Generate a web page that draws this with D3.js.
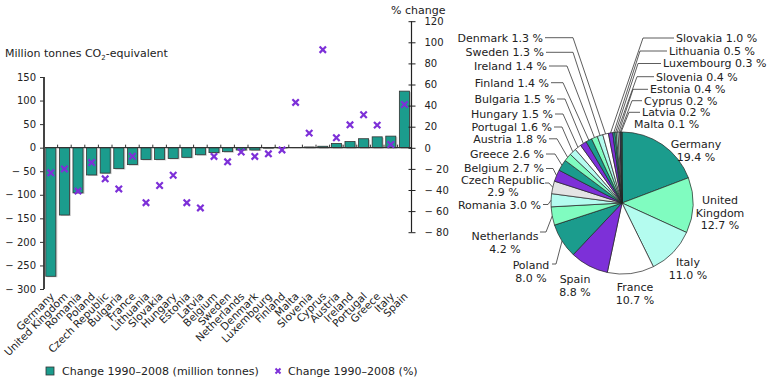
<!DOCTYPE html>
<html>
<head>
<meta charset="utf-8">
<script src="https://cdn.jsdelivr.net/npm/d3@7"></script>
<style>
  body { margin: 0; background: #fff; }
  svg { display: block; font-family: "DejaVu Sans", Verdana, sans-serif; }
  text { fill: #222; }
</style>
</head>
<body>
<svg id="chart" width="768" height="377"></svg>
<script>
// bar chart data: change 1990-2008 per country
const countries = ["Germany", "United Kingdom", "Romania", "Poland", "Czech Republic", "Bulgaria", "France",
  "Lithuania", "Slovakia", "Hungary", "Estonia", "Latvia", "Belgium", "Sweden", "Netherlands", "Denmark",
  "Luxembourg", "Finland", "Malta", "Slovenia", "Cyprus", "Austria", "Ireland", "Portugal", "Greece", "Italy", "Spain"];
const changeMt = [-273, -143, -96, -58, -54, -44.5, -36, -25, -25, -23, -20.5, -15, -10.5, -8.5, -5, -5,
  -1, -0.5, 0.3, 1.5, 3, 9, 13, 19, 23, 24.5, 120];
const changePct = [-23.7, -20, -41, -14, -29.4, -39, -8, -52, -35.7, -26, -52, -57, -8.2, -13.3, -4, -8.2,
  -5.7, -2, 43, 13.9, 93, 9.5, 21.8, 31.3, 21.5, 3.1, 41];
const mtTicks = [150, 100, 50, 0, -50, -100, -150, -200, -250, -300];
const pctTicks = [120, 100, 80, 60, 40, 20, 0, -20, -40, -60, -80];

// pie data: share of EU-27 emissions
const pieNames = ["Germany", "United Kingdom", "Italy", "France", "Spain", "Poland", "Netherlands", "Romania",
  "Czech Republic", "Belgium", "Greece", "Austria", "Portugal", "Hungary", "Bulgaria", "Finland", "Ireland",
  "Sweden", "Denmark", "Slovakia", "Lithuania", "Luxembourg", "Slovenia", "Estonia", "Cyprus", "Latvia", "Malta"];
const pieShares = [19.4, 12.7, 11.0, 10.7, 8.8, 8.0, 4.2, 3.0, 2.9, 2.7, 2.6, 1.8, 1.6, 1.5, 1.5, 1.4, 1.4,
  1.3, 1.3, 1.0, 0.5, 0.3, 0.4, 0.4, 0.2, 0.2, 0.1];

const teal = "#1b9c8d", purple = "#7d30d8";
const palette = [teal, "#80fcc0", "#b4fcef", "#ffffff", purple];

const svg = d3.select("#chart");
const minus = v => v < 0 ? "\u2212 " + Math.abs(v) : String(v);

//#region bar chart
const x = d3.scaleBand().domain(countries).range([44, 411.2]).paddingInner(0.26).paddingOuter(0.13);
const y = d3.scaleLinear().domain([-300, 150]).range([289, 77]);
const y2 = d3.scaleLinear().domain([-80, 120]).range([232.2, 21.2]);

const bars = svg.append("g");
bars.selectAll("rect.shadow").data(countries).join("rect")
  .attr("class", "shadow")
  .attr("x", d => x(d) + 1.5)
  .attr("y", (d, i) => Math.min(y(0), y(changeMt[i])) + 1)
  .attr("width", x.bandwidth())
  .attr("height", (d, i) => Math.abs(y(changeMt[i]) - y(0)))
  .attr("fill", "#cfcfcf");
bars.selectAll("rect.bar").data(countries).join("rect")
  .attr("class", "bar")
  .attr("x", d => x(d))
  .attr("y", (d, i) => Math.min(y(0), y(changeMt[i])))
  .attr("width", x.bandwidth())
  .attr("height", (d, i) => Math.abs(y(changeMt[i]) - y(0)))
  .attr("fill", teal).attr("stroke", "#333").attr("stroke-width", 0.8);

// zero line with category separators
const zero = svg.append("g").attr("stroke", "#333");
zero.append("line").attr("x1", 44).attr("x2", 411.2).attr("y1", y(0)).attr("y2", y(0)).attr("stroke-width", 1.2);
zero.selectAll("line.sep").data(d3.range(1, countries.length)).join("line")
  .attr("class", "sep")
  .attr("x1", k => 44 + k * x.step()).attr("x2", k => 44 + k * x.step())
  .attr("y1", y(0)).attr("y2", y(0) - 3);

// left axis
const yAxis = d3.axisLeft(y).tickValues(mtTicks).tickSize(4).tickFormat(minus);
svg.append("g").attr("transform", "translate(44,0)").call(yAxis)
  .call(g => g.select(".domain").attr("stroke", "#444").attr("stroke-width", 2).attr("d", `M0,${y(150)}V${y(-300)}`))
  .call(g => g.selectAll(".tick line").attr("stroke", "#333"))
  .call(g => g.selectAll(".tick text").attr("x", -8).attr("font-size", 10).attr("fill", "#222")
    .attr("font-family", "DejaVu Sans, Verdana, sans-serif"));

// right axis
const y2Axis = d3.axisRight(y2).tickValues(pctTicks).tickSize(0).tickFormat(minus);
svg.append("g").attr("transform", "translate(411.5,0)").call(y2Axis)
  .call(g => g.select(".domain").attr("stroke", "#222").attr("stroke-width", 1.2).attr("d", `M0,${y2(120)}V${y2(-80)}`))
  .call(g => g.selectAll(".tick").append("line").attr("x1", -3).attr("x2", 4).attr("stroke", "#222"))
  .call(g => g.selectAll(".tick text").attr("x", 13).attr("font-size", 10).attr("fill", "#222")
    .attr("font-family", "DejaVu Sans, Verdana, sans-serif"));

svg.append("text").attr("x", 391).attr("y", 14).attr("font-size", 11).text("% change");
const ttl = svg.append("text").attr("x", 5).attr("y", 57).attr("font-size", 11);
ttl.append("tspan").text("Million tonnes CO");
ttl.append("tspan").attr("font-size", 7).attr("dy", 3).text("2");
ttl.append("tspan").attr("dy", -3).text("-equivalent");

// percentage markers
svg.append("g").selectAll("path").data(countries).join("path")
  .attr("transform", (d, i) => `translate(${x(d) + x.bandwidth() / 2},${y2(changePct[i])})`)
  .attr("d", "M-3.2,-3.2L3.2,3.2M-3.2,3.2L3.2,-3.2")
  .attr("stroke", purple).attr("stroke-width", 2.2);

// category labels
svg.append("g").selectAll("text").data(countries).join("text")
  .attr("transform", d => `translate(${x(d) + x.bandwidth() / 2 + 4},297) rotate(-45)`)
  .attr("text-anchor", "end").attr("font-size", 10.5)
  .text(d => d);

// legend
const lg = svg.append("g");
lg.append("rect").attr("x", 46).attr("y", 367).attr("width", 8).attr("height", 8)
  .attr("fill", teal).attr("stroke", "#333").attr("stroke-width", 0.8);
lg.append("text").attr("x", 62).attr("y", 375).attr("font-size", 11).text("Change 1990\u20132008 (million tonnes)");
lg.append("path").attr("transform", "translate(278,371)").attr("d", "M-2.5,-2.5L2.5,2.5M-2.5,2.5L2.5,-2.5")
  .attr("stroke", purple).attr("stroke-width", 2);
lg.append("text").attr("x", 288).attr("y", 375).attr("font-size", 11).text("Change 1990\u20132008 (%)");
//#endregion

//#region pie
const cx = 622, cy = 203, r = 71;
const pie = d3.pie().sort(null).value(d => d.v);
const arcs = pie(pieNames.map((n, i) => ({ n, v: pieShares[i], i })));
const arc = d3.arc().innerRadius(0).outerRadius(r);
const color = d => d.n === "Czech Republic" ? "#e4e4e4" : palette[d.i % 5];

const gp = svg.append("g").attr("transform", `translate(${cx},${cy})`);
gp.selectAll("path").data(arcs).join("path")
  .attr("d", arc)
  .attr("fill", d => color(d.data))
  .attr("stroke", "#222").attr("stroke-width", 0.7);

// label placement (text anchor point, line gap, optional leader start + elbow)
const pieLabelPos = {
  "Germany": { x: 696, y: 144, a: "middle", wrap: 1 },
  "United Kingdom": { x: 720, y: 200, a: "middle", lines: ["United", "Kingdom"] },
  "Italy": { x: 688, y: 262, a: "middle", wrap: 1 },
  "France": { x: 635, y: 287, a: "middle", wrap: 1 },
  "Spain": { x: 575, y: 279, a: "middle", wrap: 1 },
  "Poland": { x: 531, y: 265, a: "middle", wrap: 1, lead: [552, 264, 556] },
  "Netherlands": { x: 505, y: 236, a: "middle", wrap: 1, lead: [540, 232, 546] },
  "Romania": { x: 541, y: 205.5, a: "end", lead: [543, 204.5, 548] },
  "Czech Republic": { x: 503, y: 180.5, a: "middle", wrap: 1, gap: 12, lead: [545, 183, 549] },
  "Belgium": { x: 544, y: 168.5, a: "end", lead: [546, 168.5, 553] },
  "Greece": { x: 544, y: 154, a: "end", lead: [546, 154, 555] },
  "Austria": { x: 547, y: 138.8, a: "end", lead: [549, 138.8, 557] },
  "Portugal": { x: 552, y: 127, a: "end", lead: [554, 127, 562] },
  "Hungary": { x: 553, y: 114, a: "end", lead: [555, 114, 563] },
  "Bulgaria": { x: 555, y: 99, a: "end", lead: [557, 99, 565] },
  "Finland": { x: 549, y: 82.7, a: "end", lead: [551, 82.7, 563] },
  "Ireland": { x: 547, y: 66, a: "end", lead: [549, 66, 567] },
  "Sweden": { x: 544, y: 52.3, a: "end", lead: [546, 52.3, 573] },
  "Denmark": { x: 543, y: 37.7, a: "end", lead: [545, 37.7, 573] },
  "Slovakia": { x: 676, y: 38, a: "start", lead: [674, 38, 643] },
  "Lithuania": { x: 669, y: 51, a: "start", lead: [667, 51, 640] },
  "Luxembourg": { x: 663, y: 63.5, a: "start", lead: [661, 63.5, 638] },
  "Slovenia": { x: 656, y: 76.7, a: "start", lead: [654, 76.7, 637] },
  "Estonia": { x: 650, y: 89.3, a: "start", lead: [648, 89.3, 633] },
  "Cyprus": { x: 644, y: 100.7, a: "start", lead: [642, 100.7, 632] },
  "Latvia": { x: 642, y: 112.3, a: "start", lead: [640, 112.3, 629] },
  "Malta": { x: 634, y: 124.5, a: "start" }
};

const gl = svg.append("g");
arcs.forEach(d => {
  const p = pieLabelPos[d.data.n];
  const pct = d.data.v.toFixed(1) + " %";
  const lines = p.lines ? [...p.lines, pct] : p.wrap ? [d.data.n, pct] : [d.data.n + " " + pct];
  const t = gl.append("text").attr("text-anchor", p.a).attr("font-size", 11);
  lines.forEach((s, k) => t.append("tspan").attr("x", p.x).attr("y", p.y + k * (p.gap || 12.6) + 3.9).text(s));
  if (p.lead) {
    const mid = (d.startAngle + d.endAngle) / 2;
    const ex = cx + r * Math.sin(mid), ey = cy - r * Math.cos(mid);
    gl.append("path")
      .attr("d", `M${p.lead[0]},${p.lead[1]}H${p.lead[2]}L${ex},${ey}`)
      .attr("fill", "none").attr("stroke", "#333").attr("stroke-width", 0.8);
  }
});
//#endregion
</script>
</body>
</html>
